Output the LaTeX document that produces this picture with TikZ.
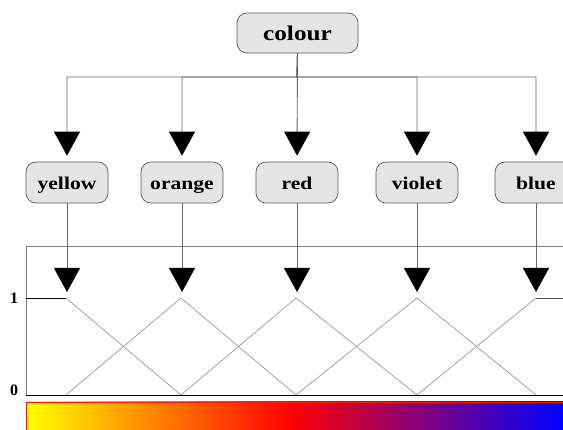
\documentclass[tikz,border=0pt]{standalone}
\usepackage{fontspec}
\setmainfont{Liberation Serif}
\newfontfamily\boxfont[FakeStretch=1.2]{Liberation Serif}
\usetikzlibrary{arrows.meta}
\begin{document}
\begin{tikzpicture}[x=1pt,y=-1pt,
  colbox/.style={draw=black!65, fill=black!10, rounded corners=10pt, line width=0.7pt,
    minimum width=82pt, minimum height=41pt, inner sep=0pt,
    text height=16pt, text depth=1pt,
    font=\boxfont\fontsize{18}{20}\selectfont\bfseries},
  conn/.style={draw=black!60, line width=0.9pt, -{Triangle[width=26pt,length=24pt,color=black,fill=black]}, shorten >=6pt},
  mf/.style={draw=black!45, line width=0.6pt},
  axlab/.style={font=\fontsize{16}{17}\selectfont\bfseries, inner sep=0pt}]
\useasboundingbox (0,0) rectangle (563,430);
\begin{scope}
\clip (0,0) rectangle (563,430);
% colour bar
\shade[left color=yellow, right color=red] (26,402) rectangle (291,430);
\shade[left color=red, right color=blue] (290,402) rectangle (563,430);
\draw[red!80!orange, line width=0.7pt] (26,430) -- (26,402.3) -- (563,402.3);
% frame
\draw[black!50, line width=0.8pt] (26,395) -- (26,246) -- (570,246);
\draw[black, line width=0.8pt] (26,395) -- (570,395);
% nodes
\node[colbox, minimum width=121pt, minimum height=40pt, font=\boxfont\fontsize{21}{23}\selectfont\bfseries] (colour) at (297.5,33) {colour};
\node[colbox] (yellow) at (67,182.5) {yellow};
\node[colbox] (orange) at (182,182.5) {orange};
\node[colbox] (red) at (297,182.5) {red};
\node[colbox] (violet) at (417,182.5) {violet};
\node[colbox] (blue) at (536,182.5) {blue};
% peaks
\coordinate (p1) at (66,298);
\coordinate (p2) at (181,298);
\coordinate (p3) at (296,298);
\coordinate (p4) at (417,298);
\coordinate (p5) at (536,298);
\coordinate (b0) at (26,298);
\coordinate (b6) at (563,298);
\coordinate (z1) at (66,395);
\coordinate (z2) at (181,395);
\coordinate (z3) at (296,395);
\coordinate (z4) at (417,395);
\coordinate (z5) at (536,395);
% tree connectors
\draw[conn] (colour.south) -- (297,77) -| (yellow.north);
\draw[conn] (colour.south) -- (297,77) -| (orange.north);
\draw[conn] (colour.south) -- (red.north);
\draw[conn] (colour.south) -- (297,77) -| (violet.north);
\draw[conn] (colour.south) -- (297,77) -| (blue.north);
% lower connectors
\draw[conn] (yellow.south) -- (yellow.south |- p1);
\draw[conn] (orange.south) -- (orange.south |- p2);
\draw[conn] (red.south) -- (red.south |- p3);
\draw[conn] (violet.south) -- (violet.south |- p4);
\draw[conn] (blue.south) -- (blue.south |- p5);
% membership functions
\draw[black, line width=0.7pt] (b0) -- (p1);
\draw[mf] (p1) -- (z2);
\draw[mf] (z1) -- (p2) -- (z3);
\draw[mf] (z2) -- (p3) -- (z4);
\draw[mf] (z3) -- (p4) -- (z5);
\draw[mf] (z4) -- (p5);
\draw[black!70, line width=0.7pt] (p5) -- (b6);
% axis labels
\node[axlab] (one) at (14,298) {1};
\node[axlab] (zero) at (14,390) {0};
\end{scope}
\end{tikzpicture}
\end{document}
